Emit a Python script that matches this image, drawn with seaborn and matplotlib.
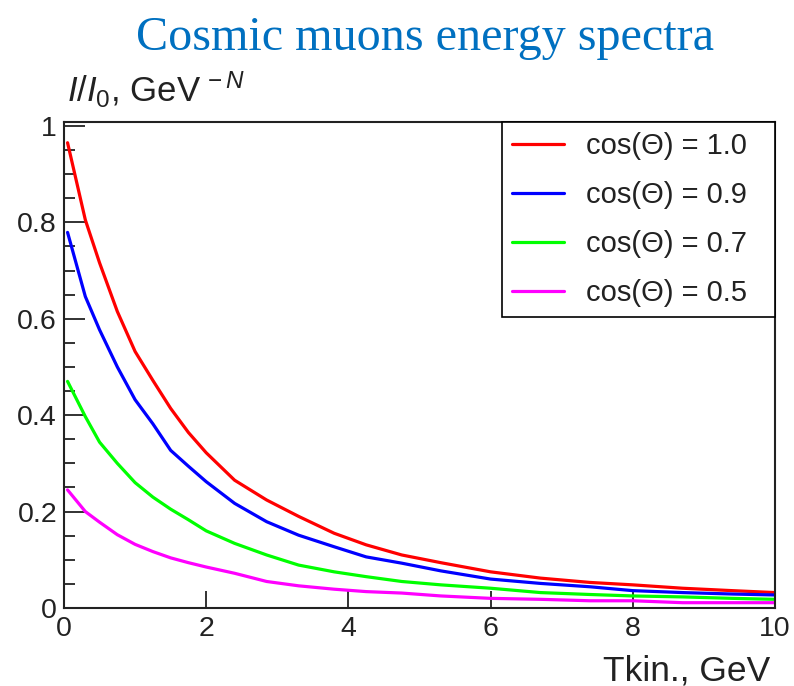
import matplotlib
matplotlib.use("Agg")
import matplotlib.pyplot as plt
from matplotlib.ticker import MultipleLocator, FixedLocator
import numpy as np
import pandas as pd
import seaborn as sns

# Kinetic energy grid, GeV
t_kin = [0.05, 0.3, 0.5, 0.75, 1.0, 1.25, 1.5, 1.75, 2.0, 2.4, 2.85, 3.3,
         3.8, 4.25, 4.75, 5.3, 6.0, 6.7, 7.4, 8.0, 8.7, 9.4, 10.0]

# Relative intensity I/I0 for each zenith angle
i_cos10 = [0.965, 0.805, 0.716, 0.615, 0.532, 0.472, 0.414, 0.364, 0.322, 0.265,
           0.224, 0.190, 0.155, 0.131, 0.110, 0.094, 0.075, 0.062, 0.053, 0.048,
           0.041, 0.036, 0.032]
i_cos09 = [0.779, 0.646, 0.577, 0.500, 0.432, 0.382, 0.327, 0.294, 0.262, 0.217,
           0.179, 0.151, 0.127, 0.106, 0.093, 0.077, 0.060, 0.051, 0.044, 0.036,
           0.032, 0.029, 0.027]
i_cos07 = [0.470, 0.397, 0.344, 0.300, 0.260, 0.230, 0.205, 0.183, 0.160, 0.134,
           0.110, 0.089, 0.075, 0.065, 0.055, 0.048, 0.041, 0.032, 0.028, 0.025,
           0.023, 0.020, 0.018]
i_cos05 = [0.245, 0.200, 0.178, 0.152, 0.132, 0.117, 0.104, 0.094, 0.085, 0.072,
           0.055, 0.046, 0.039, 0.034, 0.031, 0.025, 0.020, 0.018, 0.015, 0.015,
           0.011, 0.011, 0.011]

labels = ["cos(\u0398) = 1.0", "cos(\u0398) = 0.9", "cos(\u0398) = 0.7", "cos(\u0398) = 0.5"]
colors = ["#ff0000", "#0000ff", "#00ff00", "#ff00ff"]
x_ticks = [0, 2, 4, 6, 8, 10]
y_ticks = [0, 0.2, 0.4, 0.6, 0.8, 1]
y_tick_labels = ["0", "0.2", "0.4", "0.6", "0.8", "1"]

frames = []
for lab, vals in zip(labels, [i_cos10, i_cos09, i_cos07, i_cos05]):
    frames.append(pd.DataFrame({"T": t_kin, "I": vals, "series": lab}))
df = pd.concat(frames, ignore_index=True)

sns.set_style("ticks")
plt.rcParams["font.family"] = ["Liberation Sans", "DejaVu Sans"]
plt.rcParams["mathtext.fontset"] = "custom"
plt.rcParams["mathtext.rm"] = "Liberation Sans"
plt.rcParams["mathtext.it"] = "Liberation Sans:italic"

fig = plt.figure(figsize=(7.94, 6.86), dpi=100)
ax = fig.add_axes([64 / 794, 1 - 608 / 686, 711 / 794, 486 / 686])

sns.lineplot(data=df, x="T", y="I", hue="series", hue_order=labels,
             palette=colors, linewidth=2.3, estimator=None, sort=True, ax=ax)

ax.set_xlim(0, 10)
ax.set_ylim(0, 1.008)

spine_color = "#222222"
for s in ax.spines.values():
    s.set_color(spine_color)
    s.set_linewidth(1.5)
    s.set_visible(True)

ax.xaxis.set_major_locator(FixedLocator(x_ticks))
ax.set_xticklabels([str(v) for v in x_ticks])
ax.yaxis.set_major_locator(FixedLocator(y_ticks))
ax.set_yticklabels(y_tick_labels)
ax.yaxis.set_minor_locator(MultipleLocator(0.05))
ax.tick_params(axis="x", which="major", direction="in", length=12, width=1.3,
               color=spine_color, labelsize=20.5, pad=6, top=False,
               labelcolor="#222222")
ax.tick_params(axis="y", which="major", direction="in", length=15, width=1.3,
               color=spine_color, labelsize=20.5, pad=5, right=False,
               labelcolor="#222222")
ax.tick_params(axis="y", which="minor", direction="in", length=8, width=1.3,
               color=spine_color, right=False)

ax.set_xlabel("Tkin., GeV", fontsize=25.5, ha="right", color="#222222")
ax.xaxis.set_label_coords((770 - 64) / 711, -0.095)
ax.set_ylabel(r"$\mathit{I/I}_{\mathit{0}}$, GeV$^{\,-\mathit{N}}$", fontsize=25,
              rotation=0, ha="left", va="baseline", color="#222222")
ax.yaxis.set_label_coords((67 - 64) / 711, (608 - 102) / 486)

handles, _ = ax.get_legend_handles_labels()
leg = ax.legend(handles, labels, loc="upper right",
                bbox_to_anchor=((502 - 64) / 711, 0, 1 - (502 - 64) / 711, 1),
                mode="expand", borderaxespad=0, fontsize=21, frameon=True,
                fancybox=False, edgecolor="black", framealpha=1,
                handlelength=1.8, handletextpad=0.75, borderpad=0.34,
                labelspacing=0.72)
leg.get_frame().set_linewidth(1.2)
for line in leg.get_lines():
    line.set_linewidth(2.3)
for txt in leg.get_texts():
    txt.set_color("#222222")

fig.text(425 / 794, 1 - 50 / 686, "Cosmic muons energy spectra",
         family="Liberation Serif", fontsize=34.7, color="#0070C0",
         ha="center", va="baseline")

fig.savefig("out.png", dpi=100)
